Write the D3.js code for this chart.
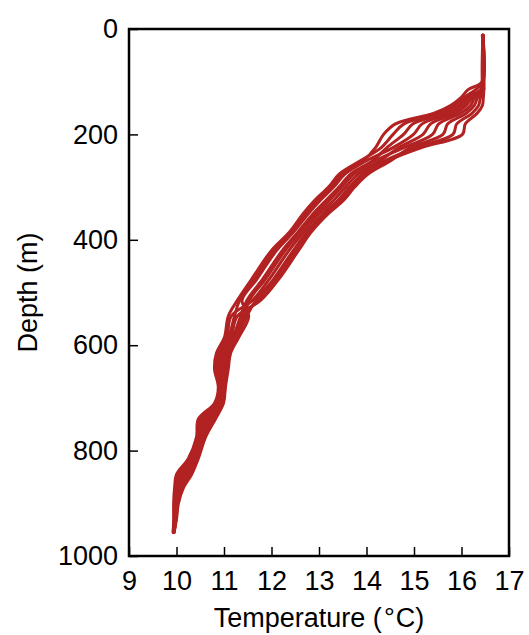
<!DOCTYPE html>
<html>
<head>
<meta charset="utf-8">
<script src="https://cdn.jsdelivr.net/npm/d3@7"></script>
<style>
  body { margin: 0; background: #fff; }
  svg text { font-family: "Liberation Sans", Arial, sans-serif; fill: #000; }
</style>
</head>
<body>
<svg id="chart" width="529" height="635"></svg>
<script>
// depth levels (m) shared by every profile
const depths = [12, 100, 115, 130, 145, 160, 180, 200, 225, 250, 275, 300, 325, 350, 385, 420,
  475, 515, 545, 585, 615, 645, 680, 710, 740, 775, 815, 845, 870, 900, 930, 955]

// temperature profiles (deg C)
const prof1 = [16.44, 16.43, 16.14, 15.99, 15.77, 15.41, 14.61, 14.36, 14.19, 13.93, 13.49, 13.26, 12.97, 12.72, 12.43, 12.06, 11.64, 11.33, 11.22, 11.10, 10.93, 10.89, 10.93, 10.86, 10.57, 10.48, 10.31, 10.10, 10.02, 9.97, 9.96, 9.94]
const prof2 = [16.45, 16.45, 16.30, 16.05, 15.85, 15.52, 14.79, 14.56, 14.31, 13.87, 13.43, 13.20, 12.91, 12.67, 12.38, 12.00, 11.58, 11.28, 11.09, 11.01, 10.84, 10.80, 10.88, 10.80, 10.46, 10.42, 10.25, 10.00, 9.96, 9.94, 9.94, 9.93]
const prof3 = [16.45, 16.46, 16.40, 16.11, 15.94, 15.64, 14.98, 14.78, 14.43, 14.13, 13.67, 13.42, 13.15, 12.88, 12.56, 12.23, 11.81, 11.48, 11.35, 11.19, 11.02, 10.97, 10.97, 10.91, 10.68, 10.53, 10.38, 10.19, 10.07, 10.00, 9.98, 9.95]
const prof4 = [16.46, 16.44, 16.44, 16.17, 16.02, 15.76, 15.17, 14.99, 14.56, 14.00, 13.55, 13.31, 13.03, 12.78, 12.47, 12.11, 11.69, 11.38, 11.52, 11.31, 11.14, 11.09, 11.03, 10.99, 10.82, 10.61, 10.46, 10.32, 10.15, 10.04, 10.00, 9.95]
const prof5 = [16.44, 16.47, 16.45, 16.23, 16.10, 15.87, 15.35, 15.19, 14.68, 14.29, 13.83, 13.56, 13.31, 13.01, 12.68, 12.37, 11.95, 11.60, 11.15, 11.06, 10.89, 10.84, 10.90, 10.83, 10.51, 10.45, 10.28, 10.05, 9.99, 9.96, 9.95, 9.93]
const prof6 = [16.45, 16.45, 16.46, 16.28, 16.19, 15.98, 15.52, 15.39, 14.79, 14.19, 13.74, 13.48, 13.22, 12.94, 12.61, 12.29, 11.87, 11.53, 11.43, 11.25, 11.08, 11.03, 11.00, 10.95, 10.75, 10.57, 10.42, 10.26, 10.11, 10.02, 9.99, 9.94]
const prof7 = [16.46, 16.46, 16.46, 16.34, 16.27, 16.10, 15.71, 15.61, 14.92, 14.51, 14.04, 13.75, 13.52, 13.20, 12.84, 12.57, 12.15, 11.77, 11.28, 11.15, 10.98, 10.93, 10.95, 10.89, 10.62, 10.51, 10.34, 10.14, 10.05, 9.99, 9.97, 9.94]
const prof8 = [16.45, 16.44, 16.47, 16.40, 16.36, 16.22, 15.90, 15.82, 15.04, 14.38, 13.92, 13.64, 13.40, 13.09, 12.75, 12.46, 12.04, 11.67, 11.48, 11.28, 11.11, 11.06, 11.02, 10.97, 10.78, 10.59, 10.44, 10.29, 10.13, 10.03, 9.99, 9.95]
const prof9 = [16.44, 16.47, 16.47, 16.46, 16.44, 16.33, 16.08, 16.02, 15.16, 14.45, 13.98, 13.70, 13.46, 13.15, 12.79, 12.51, 12.09, 11.72, 11.39, 11.22, 11.05, 11.00, 10.99, 10.93, 10.71, 10.55, 10.40, 10.22, 10.09, 10.01, 9.98, 9.94]

const profiles = [prof1, prof2, prof3, prof4, prof5, prof6, prof7, prof8, prof9]

const xTicks = [9, 10, 11, 12, 13, 14, 15, 16, 17]
const yTicks = [0, 200, 400, 600, 800, 1000]

let svg = d3.select('#chart')

let plotLeft = 129, plotRight = 509, plotTop = 29, plotBottom = 556

let x = d3.scaleLinear().domain([9, 17]).range([plotLeft, plotRight])
let y = d3.scaleLinear().domain([0, 1000]).range([plotTop, plotBottom])

let line = d3.line()
  .x(d => x(d.t))
  .y(d => y(d.d))
  .curve(d3.curveCatmullRom.alpha(0.5))

svg.append('g')
  .selectAll('path')
  .data(profiles)
  .join('path')
  .attr('d', p => line(p.map((t, i) => ({ t: t, d: depths[i] }))))
  .attr('fill', 'none')
  .attr('stroke', '#b22222')
  .attr('stroke-width', 3)
  .attr('stroke-linejoin', 'round')
  .attr('stroke-linecap', 'round')

// x axis, ticks pointing inward
let xAxis = svg.append('g')
  .attr('transform', `translate(0,${plotBottom})`)
  .call(d3.axisBottom(x).tickValues(xTicks).tickFormat(d3.format('d'))
    .tickSizeInner(-9).tickSizeOuter(0).tickPadding(15))
xAxis.select('.domain').remove()
xAxis.selectAll('line').attr('stroke', '#000').attr('stroke-width', 1.5)
xAxis.selectAll('text').attr('font-size', 27).attr('dy', '0.71em')

let yAxis = svg.append('g')
  .attr('transform', `translate(${plotLeft},0)`)
  .call(d3.axisLeft(y).tickValues(yTicks).tickFormat(d3.format('d'))
    .tickSizeInner(-9).tickSizeOuter(0).tickPadding(11))
yAxis.select('.domain').remove()
yAxis.selectAll('line').attr('stroke', '#000').attr('stroke-width', 1.5)
yAxis.selectAll('text').attr('font-size', 27)

// frame
svg.append('rect')
  .attr('x', plotLeft)
  .attr('y', plotTop)
  .attr('width', plotRight - plotLeft)
  .attr('height', plotBottom - plotTop)
  .attr('fill', 'none')
  .attr('stroke', '#000')
  .attr('stroke-width', 2.5)

let xTitle = svg.append('text')
  .attr('x', (plotLeft + plotRight) / 2)
  .attr('y', 627)
  .attr('text-anchor', 'middle')
  .attr('font-size', 27)
xTitle.append('tspan').text('Temperature (')
xTitle.append('tspan').attr('dx', 2).text('°')
xTitle.append('tspan').attr('dx', 1).text('C)')

svg.append('text')
  .attr('transform', `translate(37,${(plotTop + plotBottom) / 2}) rotate(-90)`)
  .attr('text-anchor', 'middle')
  .attr('font-size', 27)
  .text('Depth (m)')
</script>
</body>
</html>
